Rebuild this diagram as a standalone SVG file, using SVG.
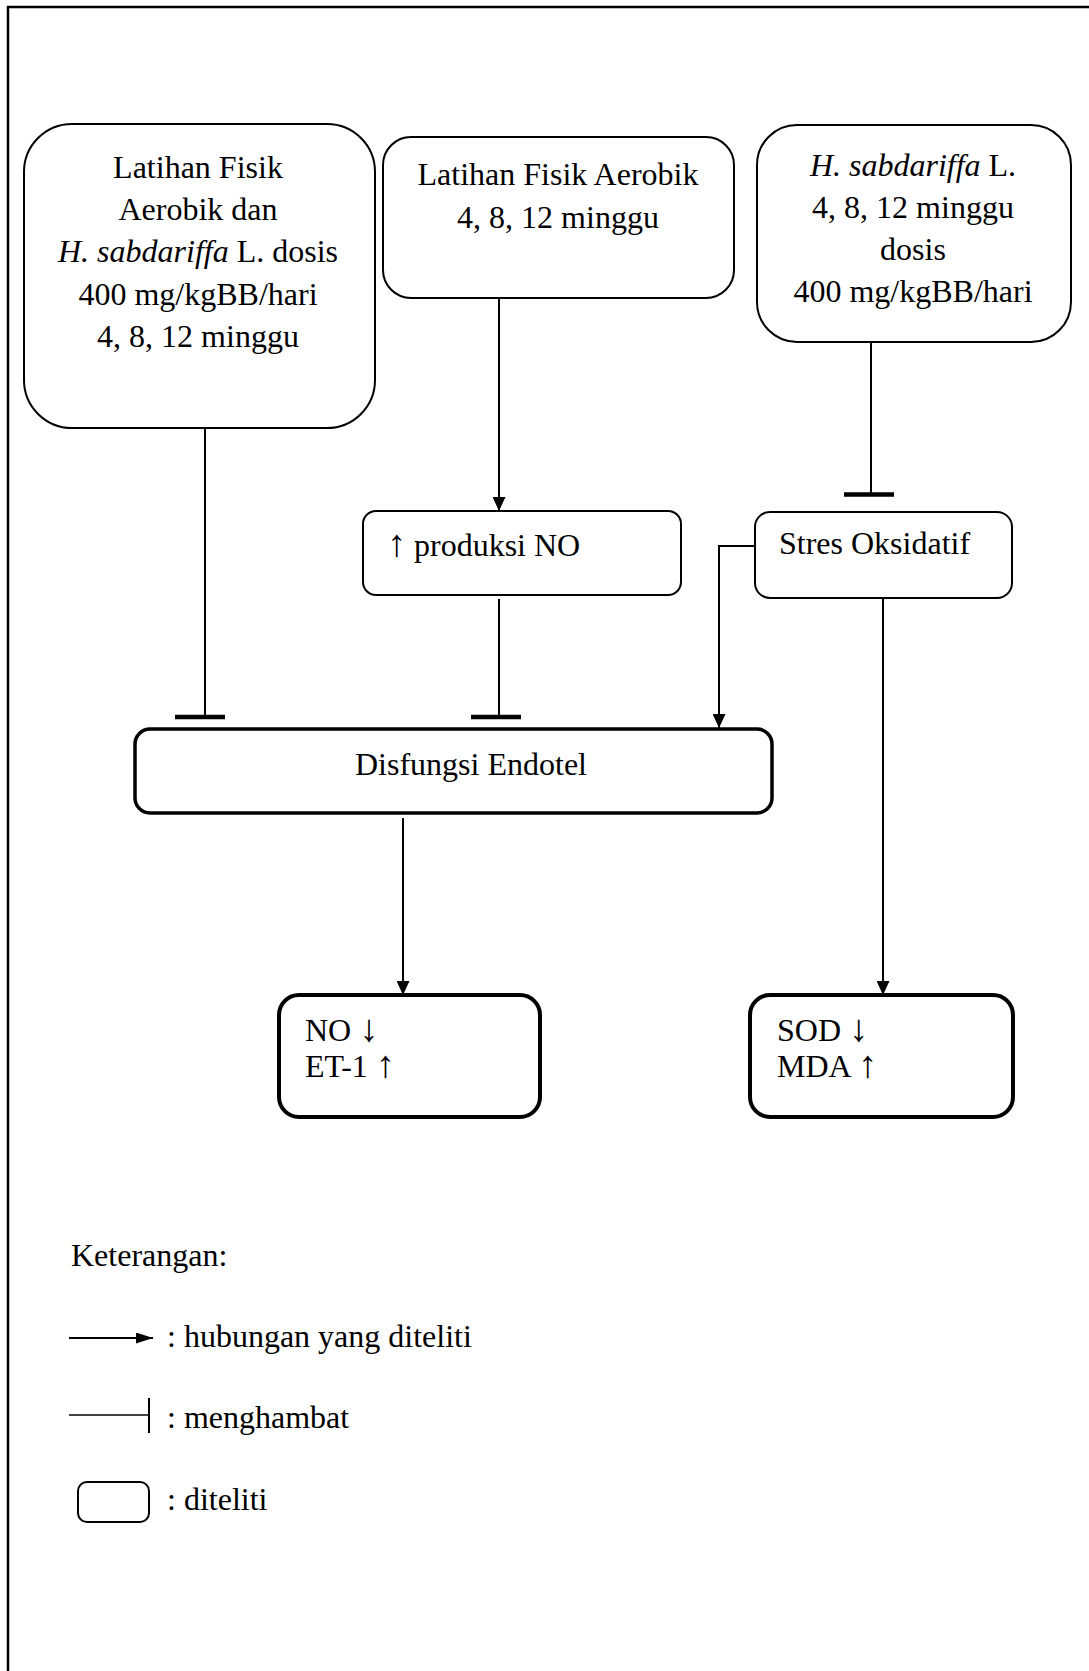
<svg xmlns="http://www.w3.org/2000/svg" width="1089" height="1671" viewBox="0 0 1089 1671">
<defs>
<marker id="arr" markerUnits="userSpaceOnUse" markerWidth="14" markerHeight="13" refX="14" refY="6.5" orient="auto">
<path d="M0,0 L14,6.5 L0,13 z" fill="#000"/>
</marker>
<marker id="arrL" markerUnits="userSpaceOnUse" markerWidth="17" markerHeight="11" refX="17" refY="5.5" orient="auto">
<path d="M0,0 L17,5.5 L0,11 z" fill="#000"/>
</marker>
<style>
text{font-family:"Liberation Serif","Times New Roman",serif;font-size:32px;fill:#000}
.c{text-anchor:middle}
.i{font-style:italic}
.ar{font-size:38px}
.box{fill:#fff;stroke:#000;stroke-width:2}
.bold{fill:#fff;stroke:#000;stroke-width:3.5}
.thick{fill:#fff;stroke:#000;stroke-width:4}
.ln{fill:none;stroke:#000;stroke-width:2}
.bar{stroke:#000;stroke-width:4.5}
</style>
</defs>
<rect width="1089" height="1671" fill="#fff"/>
<path d="M8,1671 L8,7 L1089,7" fill="none" stroke="#000" stroke-width="2.5"/>

<g id="node-latihan-hs">
<rect class="box" x="24" y="124" width="351" height="304" rx="48" ry="48"/>
<text class="c" x="198" y="178">Latihan Fisik</text>
<text class="c" x="198" y="220">Aerobik dan</text>
<text class="c" x="198" y="262"><tspan class="i">H. sabdariffa</tspan> L. dosis</text>
<text class="c" x="198" y="305">400 mg/kgBB/hari</text>
<text class="c" x="198" y="347">4, 8, 12 minggu</text>
</g>

<g id="node-latihan">
<rect class="box" x="383" y="137" width="351" height="161" rx="28" ry="28"/>
<text class="c" x="558" y="185">Latihan Fisik Aerobik</text>
<text class="c" x="558" y="228">4, 8, 12 minggu</text>
</g>

<g id="node-hs">
<rect class="box" x="757" y="125" width="314" height="217" rx="40" ry="40"/>
<text class="c" x="913" y="176"><tspan class="i">H. sabdariffa</tspan> L.</text>
<text class="c" x="913" y="218">4, 8, 12 minggu</text>
<text class="c" x="913" y="260">dosis</text>
<text class="c" x="913" y="302">400 mg/kgBB/hari</text>
</g>

<g id="node-produksi-no">
<rect class="box" x="363" y="511" width="318" height="84" rx="13" ry="13"/>
<text x="387" y="556"><tspan class="ar">↑</tspan> produksi NO</text>
</g>

<g id="node-stres">
<rect class="box" x="755" y="512" width="257" height="86" rx="15" ry="15"/>
<text x="779" y="554">Stres Oksidatif</text>
</g>

<g id="node-disfungsi">
<rect class="bold" x="135" y="729" width="637" height="84" rx="15" ry="15"/>
<text class="c" x="471" y="775">Disfungsi Endotel</text>
</g>

<g id="node-no-et1">
<rect class="thick" x="279" y="995" width="261" height="122" rx="20" ry="20"/>
<text x="305" y="1041">NO <tspan class="ar">↓</tspan></text>
<text x="305" y="1077">ET-1 <tspan class="ar">↑</tspan></text>
</g>

<g id="node-sod-mda">
<rect class="thick" x="750" y="995" width="263" height="122" rx="20" ry="20"/>
<text x="777" y="1041">SOD <tspan class="ar">↓</tspan></text>
<text x="777" y="1077">MDA <tspan class="ar">↑</tspan></text>
</g>

<g id="connectors">
<line class="ln" x1="205" y1="428" x2="205" y2="717"/>
<line class="bar" x1="175" y1="717" x2="225" y2="717"/>
<line class="ln" x1="499" y1="298" x2="499" y2="511" marker-end="url(#arr)"/>
<line class="ln" x1="499" y1="599" x2="499" y2="717"/>
<line class="bar" x1="471" y1="717" x2="521" y2="717"/>
<line class="ln" x1="871" y1="342" x2="871" y2="494"/>
<line class="bar" x1="844" y1="494.5" x2="894" y2="494.5"/>
<polyline class="ln" points="755,546 719,546 719,728" marker-end="url(#arr)"/>
<line class="ln" x1="883" y1="598" x2="883" y2="995" marker-end="url(#arr)"/>
<line class="ln" x1="403" y1="818" x2="403" y2="995" marker-end="url(#arr)"/>
</g>

<g id="legend">
<text x="71" y="1266">Keterangan:</text>
<line x1="69" y1="1338" x2="153" y2="1338" stroke="#000" stroke-width="2" marker-end="url(#arrL)"/>
<text x="167" y="1347">: hubungan yang diteliti</text>
<line x1="69" y1="1415" x2="149" y2="1415" stroke="#000" stroke-width="1.5"/>
<line x1="149" y1="1398" x2="149" y2="1433" stroke="#000" stroke-width="2"/>
<text x="167" y="1428">: menghambat</text>
<rect x="78" y="1482" width="71" height="40" rx="9" ry="9" fill="#fff" stroke="#000" stroke-width="2"/>
<text x="167" y="1510">: diteliti</text>
</g>
</svg>
